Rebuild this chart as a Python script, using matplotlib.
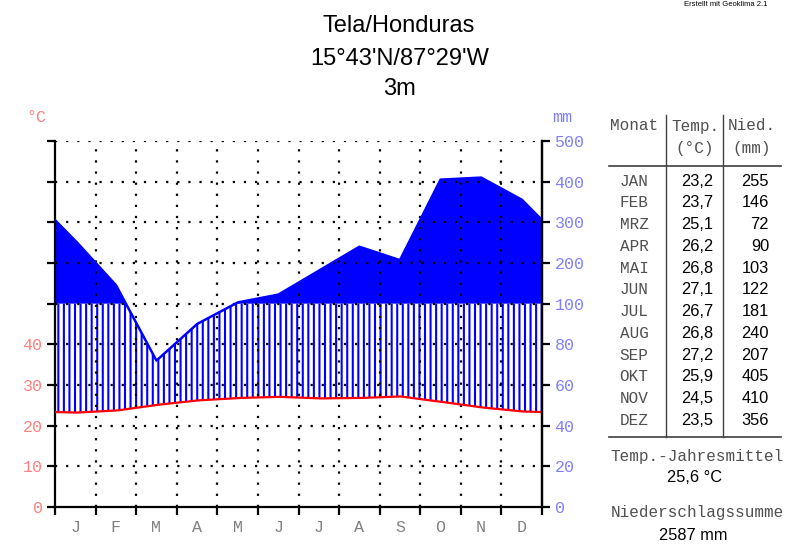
import numpy as np
import matplotlib
matplotlib.use("Agg")
import matplotlib.pyplot as plt

# ---- data ----
station = "Tela/Honduras"
coords = "15°43'N/87°29'W"
elevation = "3m"
month_letters = ["J", "F", "M", "A", "M", "J", "J", "A", "S", "O", "N", "D"]
month_abbr = ["JAN", "FEB", "MRZ", "APR", "MAI", "JUN", "JUL", "AUG", "SEP", "OKT", "NOV", "DEZ"]
temp = [23.2, 23.7, 25.1, 26.2, 26.8, 27.1, 26.7, 26.8, 27.2, 25.9, 24.5, 23.5]
precip = [255, 146, 72, 90, 103, 122, 181, 240, 207, 405, 410, 356]
temp_ticks = [0, 10, 20, 30, 40]
precip_ticks = [0, 20, 40, 60, 80, 100, 200, 300, 400, 500]

W, H = 800, 557
PINK = "#ff8080"
LBLUE = "#8080ff"
BLUE = "#0000ff"
RED = "#ff0000"
MONO = "Liberation Mono"
SANS = "Liberation Sans"


def p2u(p):
    p = np.asarray(p, dtype=float)
    return np.where(p <= 100, p / 2.0, 50 + (p - 100) / 10.0)


def fx(x):
    return x / W


def fy(y):
    return 1 - y / H


fig = plt.figure(figsize=(W / 100, H / 100), dpi=100)
fig.patch.set_facecolor("white")
ax = fig.add_axes([fx(55), fy(507), fx(542) - fx(55), fy(141) - fy(507)])

# knots at month centres, edges wrap (mean of Dec & Jan)
t = np.array(temp)
pu = p2u(precip)
xk = np.concatenate([[0], np.arange(12) + 0.5, [12]])
tk = np.concatenate([[(t[0] + t[-1]) / 2], t, [(t[0] + t[-1]) / 2]])
pk = np.concatenate([[(pu[0] + pu[-1]) / 2], pu, [(pu[0] + pu[-1]) / 2]])
xf = np.linspace(0, 12, 2401)
tf = np.interp(xf, xk, tk)
pf = np.interp(xf, xk, pk)

plt.rcParams["hatch.linewidth"] = 1.5
ax.fill_between(xf, 50, pf, where=pf >= 50, color=BLUE, lw=0, zorder=1)
ax.fill_between(xf, tf, np.minimum(pf, 50), where=pf >= tf, facecolor="none",
                edgecolor=BLUE, hatch="|||", lw=0, zorder=1)
ax.plot(xf, np.maximum(pf, 0), color=BLUE, lw=1.8, zorder=3)
ax.plot(xf, tf, color=RED, lw=1.6, zorder=4)

# dotted grid
dots = (0, (1, 4))
for yv in range(10, 91, 10):
    ax.plot([0, 12], [yv, yv], color="black", lw=1.6, ls=dots, zorder=2)
for xv in range(1, 12):
    ax.plot([xv, xv], [0, 90], color="black", lw=1.6, ls=dots, zorder=2)

ax.set_xlim(0, 12)
ax.set_ylim(0, 90)
ax.spines["top"].set_visible(False)
for s in ["left", "right", "bottom"]:
    ax.spines[s].set_linewidth(1.6)

ax.set_xticks(range(13))
ax.set_xticklabels([])
ax.set_xticks(np.arange(12) + 0.5, minor=True)
ax.set_xticklabels(month_letters, minor=True, fontfamily=MONO, fontsize=12, color="#808080")
ax.tick_params(axis="x", which="major", length=6, width=1.6, direction="out")
ax.tick_params(axis="x", which="minor", length=0, pad=9)

ax.set_yticks(range(0, 91, 10))
ax.set_yticklabels([str(v) for v in temp_ticks] + [""] * 5, fontfamily=MONO, fontsize=12, color=PINK)
ax.tick_params(axis="y", length=6, width=1.6, direction="out", pad=3)

ax2 = ax.twinx()
ax2.set_ylim(0, 90)
ax2.set_yticks(p2u(precip_ticks))
ax2.set_yticklabels([str(v) for v in precip_ticks], fontfamily=MONO, fontsize=12, color=LBLUE)
ax2.tick_params(axis="y", length=6, width=1.6, direction="out", pad=3)
for s in ["top", "left", "bottom"]:
    ax2.spines[s].set_visible(False)
ax2.spines["right"].set_linewidth(1.6)

fig.text(fx(36), fy(117), "°C", fontfamily=MONO, fontsize=12, color=PINK, ha="center", va="center")
fig.text(fx(562), fy(117), "mm", fontfamily=MONO, fontsize=12, color=LBLUE, ha="center", va="center")

# title
fig.text(fx(399), fy(26), station, fontfamily=SANS, fontsize=17, ha="center", va="center")
fig.text(fx(400), fy(59), coords, fontfamily=SANS, fontsize=17, ha="center", va="center")
fig.text(fx(399), fy(89), elevation, fontfamily=SANS, fontsize=17, ha="center", va="center")
fig.text(fx(726), fy(5), "Erstellt mit Geoklima 2.1", fontfamily=SANS, fontsize=5.5, ha="center", va="center")

# table
GRAY = "#505050"
fig.text(fx(634), fy(126), "Monat", fontfamily=MONO, fontsize=11.5, color=GRAY, ha="center", va="center")
fig.text(fx(695), fy(126), "Temp.", fontfamily=MONO, fontsize=11.5, color=GRAY, ha="center", va="center")
fig.text(fx(752), fy(126), "Nied.", fontfamily=MONO, fontsize=11.5, color=GRAY, ha="center", va="center")
fig.text(fx(695), fy(149), "(°C)", fontfamily=MONO, fontsize=11.5, color=GRAY, ha="center", va="center")
fig.text(fx(752), fy(149), "(mm)", fontfamily=MONO, fontsize=11.5, color=GRAY, ha="center", va="center")
fig.add_artist(plt.Line2D([fx(666), fx(666)], [fy(115), fy(437)], color="#404040", lw=1))
fig.add_artist(plt.Line2D([fx(723), fx(723)], [fy(115), fy(437)], color="#404040", lw=1))
fig.add_artist(plt.Line2D([fx(609), fx(781)], [fy(166), fy(166)], color="#404040", lw=1.2))
fig.add_artist(plt.Line2D([fx(609), fx(781)], [fy(437), fy(437)], color="#404040", lw=1.2))
for i in range(12):
    yy = 181 + i * 21.75
    fig.text(fx(634), fy(yy), month_abbr[i], fontfamily=MONO, fontsize=11.5, color=GRAY, ha="center", va="center")
    fig.text(fx(697), fy(yy), f"{temp[i]:.1f}".replace(".", ","), fontfamily=SANS, fontsize=11.8, ha="center", va="center")
    fig.text(fx(769), fy(yy), f"{precip[i]}", fontfamily=SANS, fontsize=11.8, ha="right", va="center")

mean_t = np.mean(temp)
sum_p = int(np.sum(precip))
fig.text(fx(697), fy(456), "Temp.-Jahresmittel", fontfamily=MONO, fontsize=11.5, color=GRAY, ha="center", va="center")
fig.text(fx(695), fy(477), f"{mean_t:.1f} °C".replace(".", ","), fontfamily=SANS, fontsize=11.8, ha="center", va="center")
fig.text(fx(697), fy(513), "Niederschlagssumme", fontfamily=MONO, fontsize=11.5, color=GRAY, ha="center", va="center")
fig.text(fx(693), fy(535), f"{sum_p} mm", fontfamily=SANS, fontsize=11.8, ha="center", va="center")

fig.savefig("out.png", dpi=100)
